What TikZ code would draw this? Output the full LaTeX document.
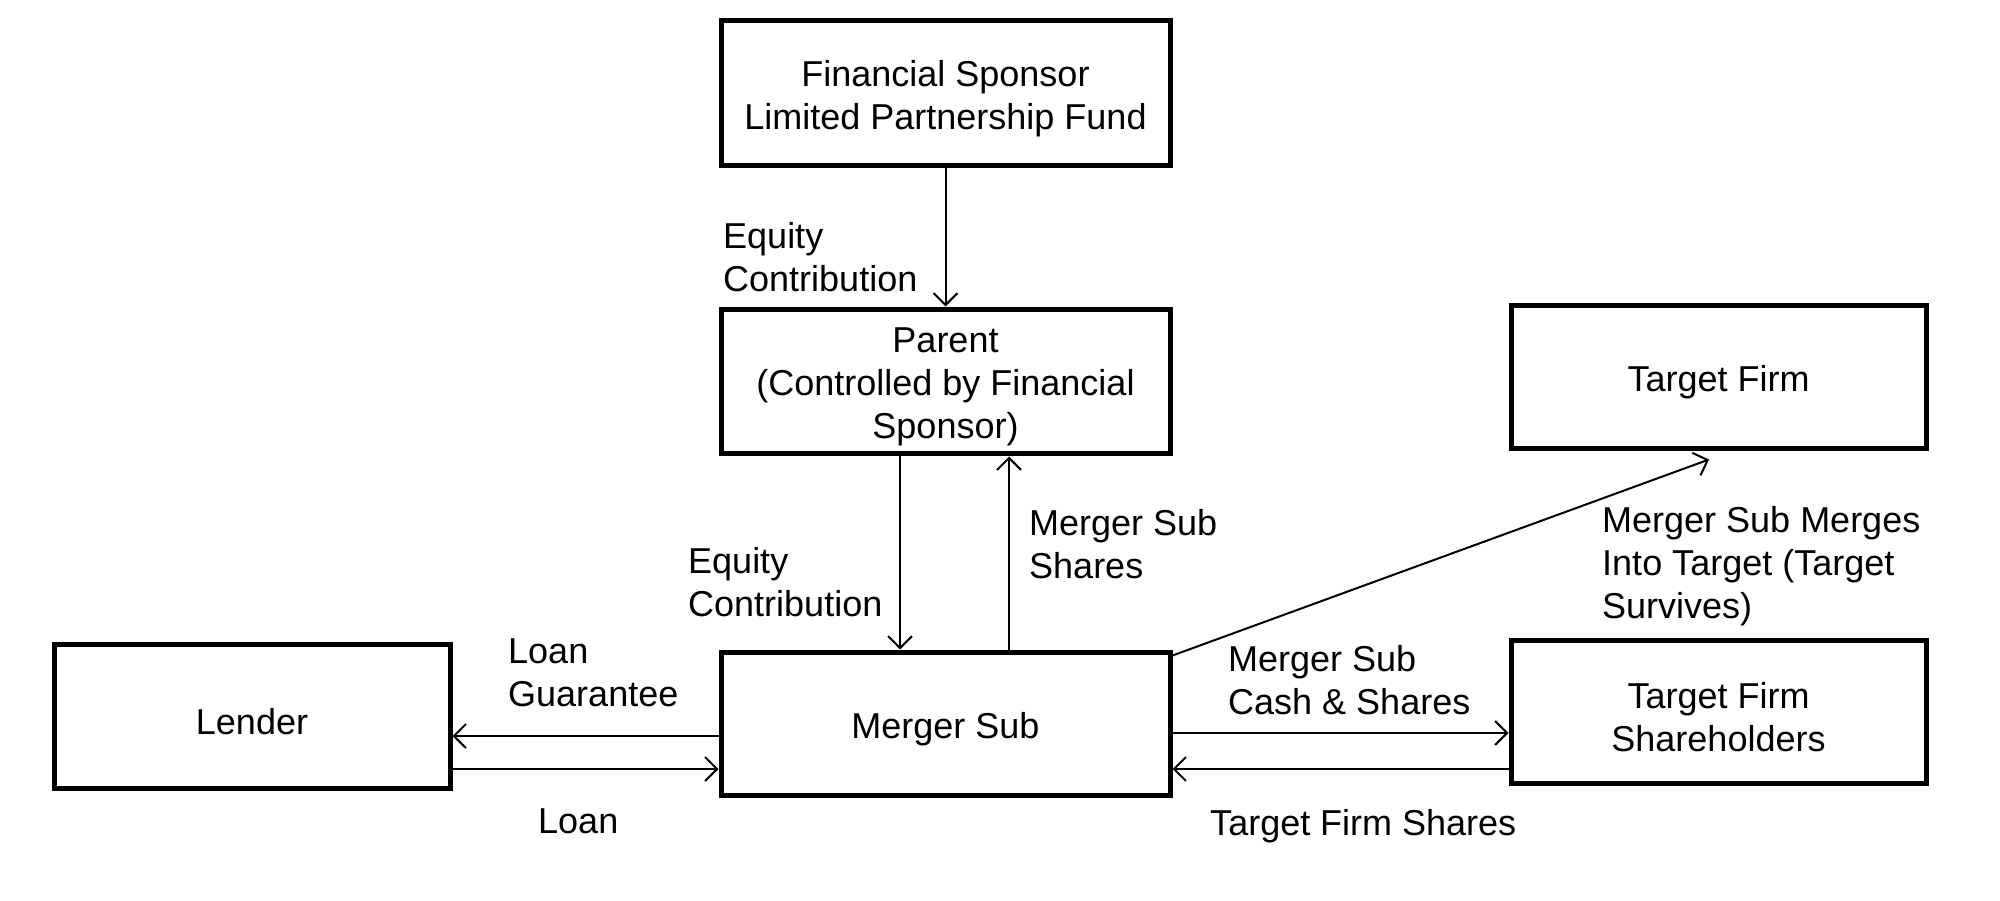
\documentclass[tikz,border=0pt]{standalone}
\usepackage{fontspec}
\setmainfont{Liberation Sans}
\usetikzlibrary{arrows.meta, calc}
\tikzstyle{box} = [draw, line width=5pt, inner sep=0pt]
\tikzstyle{boxtext} = [align=center, inner sep=0pt, yshift=-6pt]
\tikzstyle{lbl} = [anchor=west, align=left, inner sep=0pt]
\tikzstyle{arrow} = [line width=2pt, -{Straight Barb[length=12pt,width=24pt,line width=2pt]}]

\begin{document}
\begin{tikzpicture}[x=1pt, y=-1pt, every node/.style={font=\fontsize{36}{43}\selectfont}]
        \useasboundingbox (0,0) rectangle (2000,900);

        % boxes
        \node at (945.5,92.5) [box, minimum width=449pt, minimum height=145pt,
            label={[boxtext]center:{Financial Sponsor\\Limited Partnership Fund}}](fund) {};
        \node at (945.5,381) [box, minimum width=449pt, minimum height=144pt,
            label={[boxtext]center:{Parent\\(Controlled by Financial\\Sponsor)}}](parent) {};
        \node at (945.5,723.5) [box, minimum width=449pt, minimum height=143pt,
            label={[boxtext]center:Merger Sub}](mergersub) {};
        \node at (252,716) [box, minimum width=396pt, minimum height=144pt,
            label={[boxtext]center:Lender}](lender) {};
        \node at (1718.5,376.5) [box, minimum width=415pt, minimum height=143pt,
            label={[boxtext]center:Target Firm}](target) {};
        \node at (1718.5,711.5) [box, minimum width=415pt, minimum height=143pt,
            label={[boxtext]center:{Target Firm\\Shareholders}}](holders) {};

        % connectors
        \draw[arrow] (fund) -- (parent);
        \draw[arrow] ([xshift=-45.5pt]parent.south) -- ([xshift=-45.5pt]mergersub.north);
        \draw[arrow] ([xshift=63.5pt]mergersub.north) -- ([xshift=63.5pt,yshift=-1pt]parent.south);
        \draw[arrow] ([yshift=-12.5pt]mergersub.west) -- ([yshift=-12.5pt]mergersub.west -| lender.east);
        \draw[arrow] ([yshift=-45.5pt]lender.east |- mergersub.west) -- ([yshift=-45.5pt]mergersub.west);
        \draw[arrow] ([yshift=-9.5pt]mergersub.east) -- ([yshift=-9.5pt]mergersub.east -| holders.west);
        \draw[arrow] ([yshift=-45.5pt]holders.west |- mergersub.east) -- ([yshift=-45.5pt]mergersub.east);
        \draw[arrow] ([yshift=-6pt]mergersub.north east) -- ([xshift=-9.5pt,yshift=-9pt]target.south);

        % labels
        \node at (723,257) [lbl](eqfund) {Equity\\Contribution};
        \node at (688,582) [lbl](eqparent) {Equity\\Contribution};
        \node at (1029,544) [lbl](subshares) {Merger Sub\\Shares};
        \node at (508,673) [lbl](guarantee) {Loan\\Guarantee};
        \node at (538,821) [lbl](loan) {Loan};
        \node at (1228,680) [lbl](cash) {Merger Sub\\Cash \& Shares};
        \node at (1210,826) [lbl](tfshares) {Target Firm Shares};
        \node at (1602,566) [lbl](merges) {Merger Sub Merges\\Into Target (Target\\Survives)};
    \end{tikzpicture}
\end{document}
